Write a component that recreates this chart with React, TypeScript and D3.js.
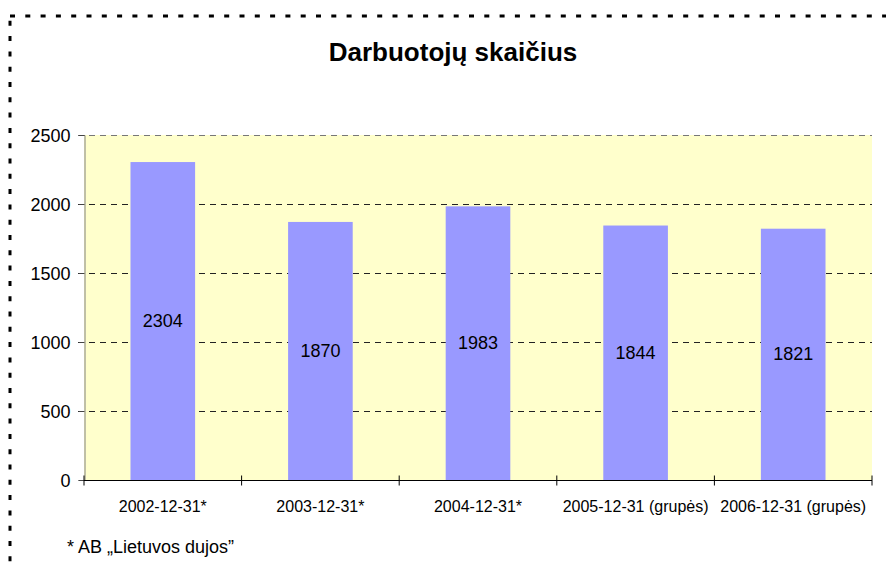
import * as React from 'react';
import * as d3 from 'd3';

const categories = [
  '2002-12-31*',
  '2003-12-31*',
  '2004-12-31*',
  '2005-12-31 (grupės)',
  '2006-12-31 (grupės)',
];
const employees = [2304, 1870, 1983, 1844, 1821];
const yTicks = [0, 500, 1000, 1500, 2000, 2500];
const title = 'Darbuotojų skaičius';
const footnote = '* AB „Lietuvos dujos”';

export default function App() {
  const ref = React.useRef<SVGSVGElement | null>(null);

  React.useEffect(() => {
    if (!ref.current) return;
    const svg = d3.select(ref.current);
    const width = 886;
    const height = 563;
    const margin = { top: 135, right: 14, bottom: 83, left: 84 };
    const font = "Arial, 'Liberation Sans', sans-serif";

    svg.selectAll('*').remove();

    // dotted frame, runs off right and bottom edge
    svg.append('rect')
      .attr('x', 10).attr('y', 16)
      .attr('width', width + 20).attr('height', height + 20)
      .attr('fill', 'none')
      .attr('stroke', '#000')
      .attr('stroke-width', 3)
      .attr('stroke-dasharray', '5 10.3');

    const x = d3.scaleBand<string>()
      .domain(categories)
      .range([margin.left, width - margin.right])
      .paddingInner(0.59)
      .paddingOuter(0.295);

    const y = d3.scaleLinear().domain([0, 2500]).range([height - margin.bottom, margin.top]);

    svg.append('rect')
      .attr('x', margin.left)
      .attr('y', margin.top)
      .attr('width', width - margin.right - margin.left)
      .attr('height', y(0) - margin.top)
      .attr('fill', '#FFFFCC');

    // grid
    svg.append('g')
      .selectAll('line')
      .data(yTicks.filter(t => t > 0))
      .join('line')
      .attr('x1', margin.left - 6)
      .attr('x2', width - margin.right)
      .attr('y1', d => y(d) + 0.5)
      .attr('y2', d => y(d) + 0.5)
      .attr('stroke', d => (d === 2500 ? '#777' : '#222'))
      .attr('stroke-dasharray', '6 5');

    svg.append('g')
      .selectAll('rect')
      .data(employees)
      .join('rect')
      .attr('x', (_, i) => x(categories[i]) ?? 0)
      .attr('y', d => y(d))
      .attr('width', x.bandwidth())
      .attr('height', d => y(0) - y(d))
      .attr('fill', '#9999FF');

    svg.append('g')
      .selectAll('text')
      .data(employees)
      .join('text')
      .attr('x', (_, i) => (x(categories[i]) ?? 0) + x.bandwidth() / 2)
      .attr('y', d => (y(d) + y(0)) / 2 + 6)
      .attr('text-anchor', 'middle')
      .attr('font-family', font)
      .attr('font-size', 18)
      .attr('fill', '#000')
      .text(d => String(d));

    // y axis
    const ay = d3.axisLeft(y)
      .tickValues(yTicks)
      .tickFormat(d3.format('d') as any)
      .tickSize(6)
      .tickPadding(8);
    const gy = svg.append('g')
      .attr('transform', `translate(${margin.left + 0.5},0)`)
      .call(ay as any);
    gy.select('.domain').attr('stroke', '#808080');
    gy.selectAll('.tick line').attr('stroke', '#444');
    gy.selectAll('.tick text')
      .attr('font-family', font)
      .attr('font-size', 18)
      .attr('fill', '#000')
      .attr('dy', '0.34em');

    // x axis with cross ticks on category boundaries
    const gx = svg.append('g').attr('transform', `translate(0,${y(0) + 0.5})`);
    gx.append('line')
      .attr('x1', margin.left).attr('x2', width - margin.right)
      .attr('stroke', '#000');
    const step = x.step();
    const bounds = d3.range(categories.length + 1).map(i => margin.left + i * step);
    gx.selectAll('line.tk')
      .data(bounds)
      .join('line')
      .attr('class', 'tk')
      .attr('x1', d => d).attr('x2', d => d)
      .attr('y1', -5).attr('y2', 5)
      .attr('stroke', '#000');
    gx.selectAll('text')
      .data(categories)
      .join('text')
      .attr('x', d => (x(d) ?? 0) + x.bandwidth() / 2)
      .attr('y', 31)
      .attr('text-anchor', 'middle')
      .attr('font-family', font)
      .attr('font-size', 16)
      .attr('fill', '#000')
      .text(d => d);

    svg.append('text')
      .attr('x', 453)
      .attr('y', 61)
      .attr('text-anchor', 'middle')
      .attr('font-family', font)
      .attr('font-size', 26)
      .attr('font-weight', 'bold')
      .text(title);

    svg.append('text')
      .attr('x', 67)
      .attr('y', 553)
      .attr('font-family', font)
      .attr('font-size', 18)
      .text(footnote);
  }, []);

  return (
    <svg
      ref={ref}
      width={886}
      height={563}
      viewBox="0 0 886 563"
      style={{ position: 'absolute', left: 0, top: 0, background: '#fff' }}
    />
  );
}
